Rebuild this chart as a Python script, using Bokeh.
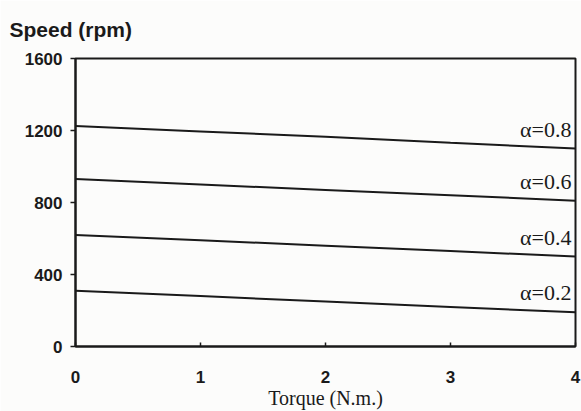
from bokeh.plotting import figure
from bokeh.models import Range1d, FixedTicker, Label
from bokeh.embed import file_html
from bokeh.resources import INLINE

torque = [0, 1, 2, 3, 4]
speed_08 = [1225, 1195, 1165, 1132, 1100]
speed_06 = [930, 900, 870, 840, 810]
speed_04 = [620, 590, 560, 530, 500]
speed_02 = [310, 280, 250, 220, 190]
series = [("α=0.8", speed_08), ("α=0.6", speed_06), ("α=0.4", speed_04), ("α=0.2", speed_02)]
x_ticks = [0, 1, 2, 3, 4]
y_ticks = [0, 400, 800, 1200, 1600]

p = figure(width=581, height=411, output_backend="svg", toolbar_location=None,
           x_range=Range1d(0, 4), y_range=Range1d(0, 1600),
           min_border_left=75, min_border_right=6, min_border_top=58, min_border_bottom=65)
p.background_fill_color = "#fcfcfb"
p.border_fill_color = "#fcfcfb"
p.grid.visible = False
p.outline_line_color = "#1a1a1a"
p.outline_line_width = 2

p.title.text = "Speed (rpm)"
p.title.align = "left"
p.title.vertical_align = "top"
p.title.offset = -66
p.title.standoff = 31
p.title.text_font = "Liberation Sans"
p.title.text_font_style = "bold"
p.title.text_font_size = "21px"
p.title.text_color = "#1a1a1a"

for ax in (p.xaxis[0], p.yaxis[0]):
    ax.axis_line_color = "#1a1a1a"
    ax.axis_line_width = 2
    ax.major_tick_line_color = "#1a1a1a"
    ax.major_tick_line_width = 1.5
    ax.minor_tick_line_color = None
    ax.major_label_text_font = "Liberation Sans"
    ax.major_label_text_font_style = "bold"
    ax.major_label_text_font_size = "17px"
    ax.major_label_text_color = "#1a1a1a"

p.xaxis.ticker = FixedTicker(ticks=x_ticks)
p.yaxis.ticker = FixedTicker(ticks=y_ticks)
p.xaxis.major_tick_in = 4
p.xaxis.major_tick_out = 0
p.xaxis.major_label_standoff = 24
p.yaxis.major_tick_in = 0
p.yaxis.major_tick_out = 5
p.yaxis.major_label_standoff = 8

p.xaxis.axis_label = "Torque (N.m.)"
p.xaxis.axis_label_text_font = "Liberation Serif"
p.xaxis.axis_label_text_font_style = "normal"
p.xaxis.axis_label_text_font_size = "20px"
p.xaxis.axis_label_text_color = "#1a1a1a"
p.xaxis.axis_label_standoff = 1

for name, ys in series:
    p.line(torque, ys, line_color="#1a1a1a", line_width=2)
    p.add_layout(Label(x=torque[-1], y=ys[-1], text=name, text_align="right",
                       text_baseline="bottom", x_offset=-4, y_offset=7,
                       text_font="Liberation Serif", text_font_size="22px",
                       text_color="#1a1a1a"))

open("out.html", "w").write(file_html(p, INLINE))
